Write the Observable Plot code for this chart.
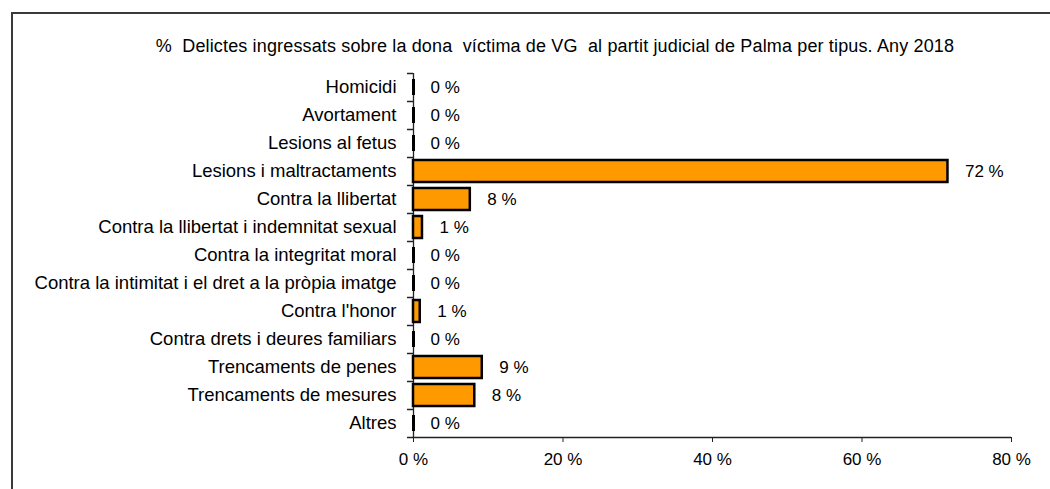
<!DOCTYPE html>
<html>
<head>
<meta charset="utf-8">
<script src="https://cdn.jsdelivr.net/npm/d3@7"></script>
<script src="https://cdn.jsdelivr.net/npm/@observablehq/plot@0.6"></script>
<style>
  html, body { margin: 0; padding: 0; background: #fff; width: 1050px; height: 489px; overflow: hidden; }
  #frame { position: absolute; left: 11px; top: 12px; width: 1100px; height: 520px; border-top: 2px solid #3a3a3a; border-left: 2px solid #3a3a3a; }
  #title { position: absolute; left: 0; width: 1110px; top: 36px; text-align: center; font-family: "Liberation Sans", Arial, sans-serif; font-size: 18px; letter-spacing: 0.15px; color: #000; white-space: pre; }
  #chart { position: absolute; left: 0; top: 60px; }
</style>
</head>
<body>
<div id="frame"></div>
<div id="title">%  Delictes ingressats sobre la dona  víctima de VG  al partit judicial de Palma per tipus. Any 2018</div>
<div id="chart"></div>
<script>
const categories = [
  "Homicidi",
  "Avortament",
  "Lesions al fetus",
  "Lesions i maltractaments",
  "Contra la llibertat",
  "Contra la llibertat i indemnitat sexual",
  "Contra la integritat moral",
  "Contra la intimitat i el dret a la pròpia imatge",
  "Contra l'honor",
  "Contra drets i deures familiars",
  "Trencaments de penes",
  "Trencaments de mesures",
  "Altres"
];
const values = [0, 0, 0, 71.5, 7.6, 1.2, 0, 0, 0.9, 0, 9.2, 8.2, 0];
const valueLabels = ["0 %", "0 %", "0 %", "72 %", "8 %", "1 %", "0 %", "0 %", "1 %", "0 %", "9 %", "8 %", "0 %"];
const xTicks = [0, 20, 40, 60, 80];
const xTickLabels = ["0 %", "20 %", "40 %", "60 %", "80 %"];

const data = categories.map((c, i) => ({cat: c, value: values[i], label: valueLabels[i]}));

const chart = Plot.plot({
  width: 1050,
  height: 429,
  marginTop: 13,
  marginBottom: 52,
  marginLeft: 413,
  marginRight: 39,
  style: {fontFamily: "Liberation Sans, Arial, sans-serif", fontSize: "17px", color: "#000", background: "transparent"},
  x: {domain: [0, 80], label: null},
  y: {domain: categories, paddingInner: 0.2, paddingOuter: 0.1, label: null},
  marks: [
    Plot.ruleY(categories, {y: d => d, x1: -0.8, x2: 0, dy: -14, stroke: "#222", strokeWidth: 1.5}),
    Plot.ruleY([categories[categories.length - 1]], {y: d => d, x1: -0.8, x2: 80, dy: 14, stroke: "#222", strokeWidth: 1.5}),
    Plot.ruleX([0], {stroke: "#222", strokeWidth: 1.3}),
    Plot.barX(data, {y: "cat", x: "value", fill: "#FF9900", stroke: "#000", strokeWidth: 2.5}),
    Plot.tickX(data.filter(d => d.value === 0), {y: "cat", x: "value", stroke: "#000", strokeWidth: 3, insetTop: 3, insetBottom: 3}),
    Plot.text(data, {y: "cat", x: "value", text: "label", dx: 17, textAnchor: "start", fill: "#000", fontSize: 17}),
    Plot.axisX({ticks: xTicks, tickFormat: (d, i) => xTickLabels[i], tickSize: 5, tickPadding: 10, stroke: "#222", fill: "#000", fontSize: 17, label: null}),
    Plot.axisY({tickSize: 0, tickPadding: 17, fill: "#000", fontSize: 18.5, label: null})
  ]
});
document.getElementById("chart").appendChild(chart);
</script>
</body>
</html>
